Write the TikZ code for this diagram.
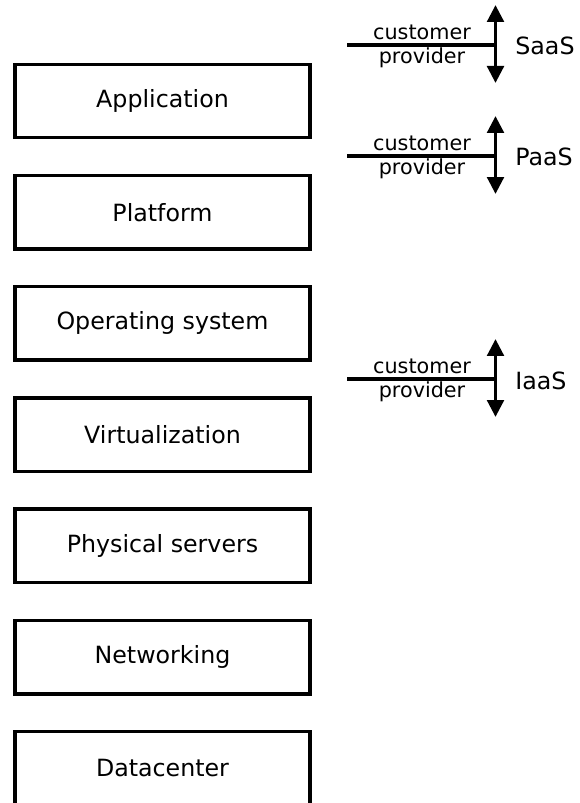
\documentclass[tikz,border=0pt]{standalone}
\usepackage{fontspec}
\setmainfont{DejaVu Sans}
\usetikzlibrary{arrows.meta}
\begin{document}
\begin{tikzpicture}[x=0.02cm,y=-0.02cm,
    layer/.style={draw,line width=0.07cm,inner sep=0pt,minimum width=5.91cm,minimum height=1.47cm,font=\fontsize{13.5}{16}\selectfont},
    split/.style={line width=0.075cm},
    updown/.style={line width=0.075cm,{Triangle[length=0.34cm,width=0.33cm]}-{Triangle[length=0.34cm,width=0.33cm]}},
    side/.style={anchor=base,inner sep=0pt,font=\fontsize{11.8}{14}\selectfont},
    model/.style={anchor=base west,inner sep=0pt,font=\fontsize{13.5}{16}\selectfont}
   ]
  \useasboundingbox (0,0) rectangle (580,803);

  \node[layer] (app) at (162.5,101) {Application};
  \node[layer] (plat) at (162.5,212.2) {Platform};
  \node[layer] (os) at (162.5,323.4) {Operating system};
  \node[layer] (virt) at (162.5,434.6) {Virtualization};
  \node[layer] (phys) at (162.5,545.8) {Physical servers};
  \node[layer] (net) at (162.5,657) {Networking};
  \node[layer] (dc) at (162.5,768.2) {Datacenter};

  % SaaS
  \coordinate (saas-l) at (347,45);
  \coordinate (saas-m) at (495.5,45);
  \coordinate (saas-t) at (495.5,5);
  \coordinate (saas-b) at (495.5,83);
  \draw[split] (saas-l) -- (saas-m);
  \draw[updown] (saas-b) -- (saas-t);
  \node[side] (saas-c) at (422,39.5) {customer};
  \node[side] (saas-p) at (422,63.5) {provider};
  \node[model] (saas) at (515,55) {SaaS};

  % PaaS
  \coordinate (paas-l) at (347,156);
  \coordinate (paas-m) at (495.5,156);
  \coordinate (paas-t) at (495.5,116);
  \coordinate (paas-b) at (495.5,194);
  \draw[split] (paas-l) -- (paas-m);
  \draw[updown] (paas-b) -- (paas-t);
  \node[side] (paas-c) at (422,150.5) {customer};
  \node[side] (paas-p) at (422,174.5) {provider};
  \node[model] (paas) at (515,166) {PaaS};

  % IaaS
  \coordinate (iaas-l) at (347,379);
  \coordinate (iaas-m) at (495.5,379);
  \coordinate (iaas-t) at (495.5,339);
  \coordinate (iaas-b) at (495.5,417);
  \draw[split] (iaas-l) -- (iaas-m);
  \draw[updown] (iaas-b) -- (iaas-t);
  \node[side] (iaas-c) at (422,373.5) {customer};
  \node[side] (iaas-p) at (422,397.5) {provider};
  \node[model] (iaas) at (515,389) {IaaS};
\end{tikzpicture}
\end{document}
